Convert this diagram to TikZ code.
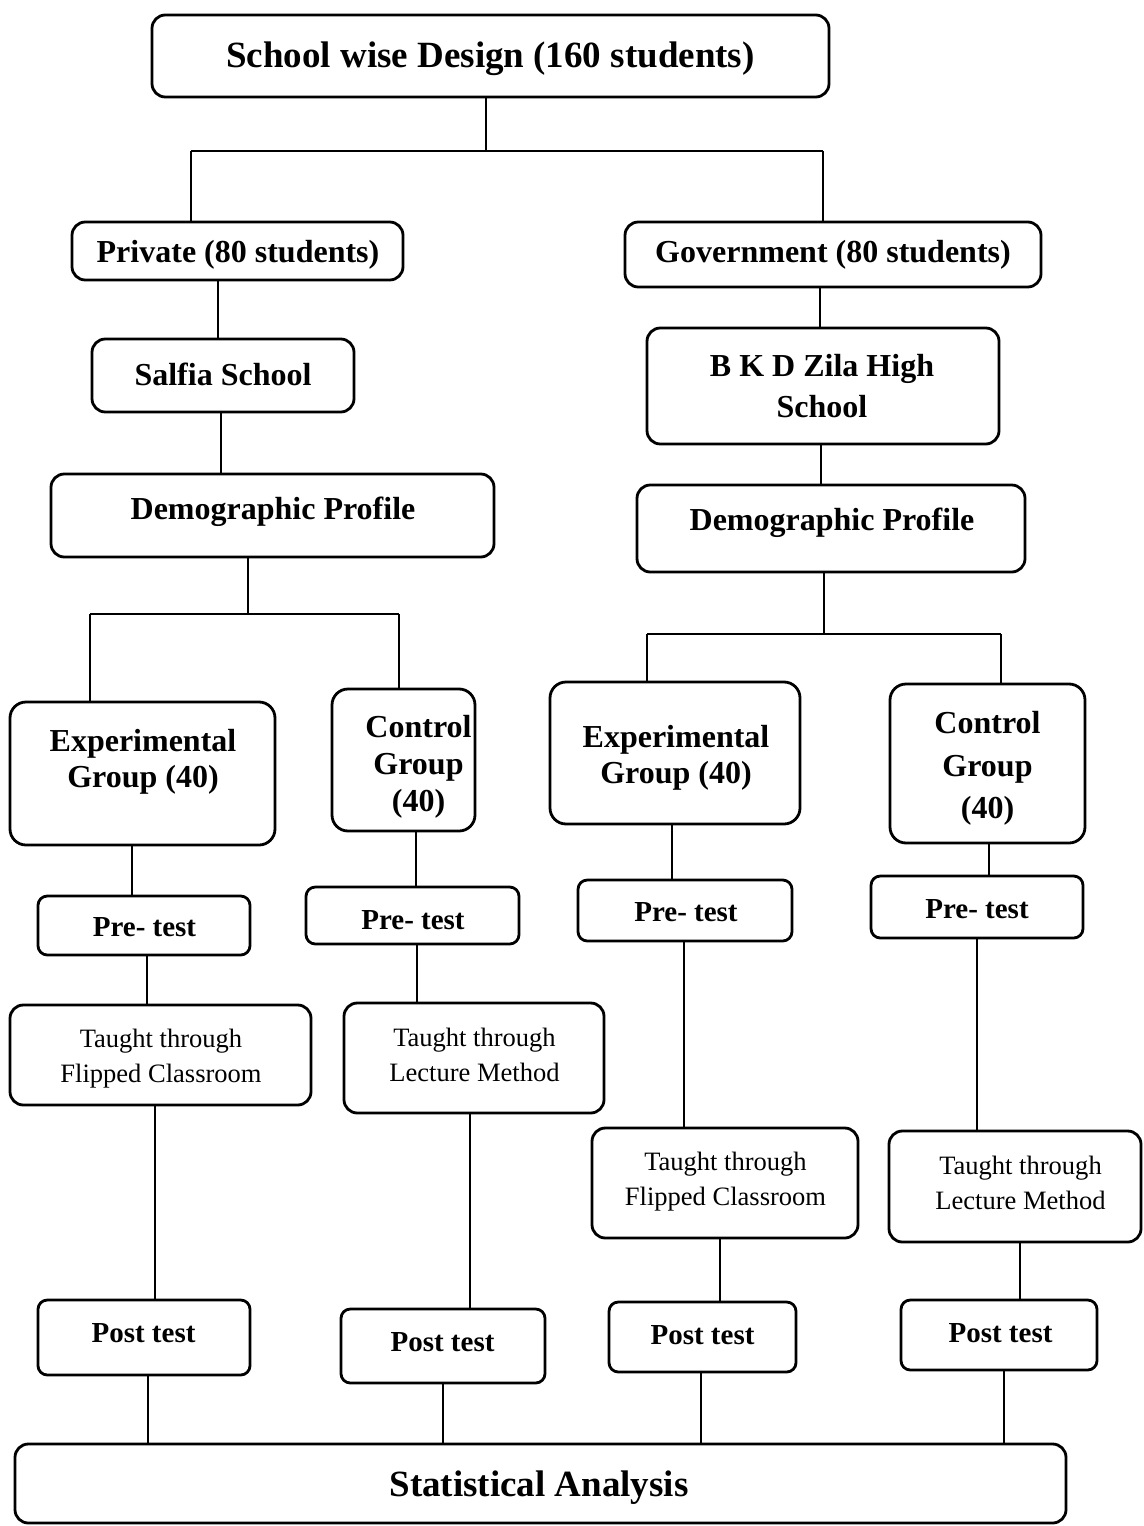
\documentclass[tikz,border=0pt]{standalone}
\usepackage{fontspec}
\setmainfont{Liberation Serif}
\begin{document}
\begin{tikzpicture}[x=0.75pt,y=-0.75pt,
  box/.style={draw, line width=2.1pt, rounded corners=10pt, inner sep=0pt, outer sep=0pt},
  grp/.style={box, rounded corners=12pt},
  small/.style={box, rounded corners=7pt},
  sz/.style 2 args={minimum width=#1*0.75pt, minimum height=#2*0.75pt},
  conn/.style={line width=0.8pt},
  txt/.style={inner sep=0pt, outer sep=0pt, align=center},
  big/.style={txt, font=\bfseries\fontsize{27.75pt}{33pt}\selectfont},
  mid/.style={txt, font=\bfseries\fontsize{24pt}{#1}\selectfont},
  mid/.default={27pt},
  tst/.style={txt, font=\bfseries\fontsize{21.75pt}{26pt}\selectfont},
  plain/.style={txt, font=\fontsize{19.9pt}{26.25pt}\selectfont}
]
\path[fill=white, use as bounding box] (0,0) rectangle (1143,1526);

% ---- boxes ----
\node[box, sz={677}{82}]   (top)    at (490.5,56)   {};
\node[box, sz={331}{58}]   (priv)   at (237.5,251)  {};
\node[box, sz={416}{65}]   (gov)    at (833,254.5)  {};
\node[box, sz={262}{73}]   (salfia) at (223,375.5)  {};
\node[box, sz={352}{116}]  (bkd)    at (823,386)    {};
\node[box, sz={443}{83}]   (demoL)  at (272.5,515.5){};
\node[box, sz={388}{87}]   (demoR)  at (831,528.5)  {};
\node[grp, sz={265}{143}]  (expL)   at (142.5,773.5){};
\node[grp, sz={143}{142}]  (ctrlL)  at (403.5,760)  {};
\node[grp, sz={250}{142}]  (expR)   at (675,753)    {};
\node[grp, sz={195}{159}]  (ctrlR)  at (987.5,763.5){};
\node[small, sz={212}{59}] (pre1)   at (144,925.5)  {};
\node[small, sz={213}{57}] (pre2)   at (412.5,915.5){};
\node[small, sz={214}{61}] (pre3)   at (685,910.5)  {};
\node[small, sz={212}{62}] (pre4)   at (977,907)    {};
\node[box, sz={301}{100}]  (t1)     at (160.5,1055) {};
\node[box, sz={260}{110}]  (t2)     at (474,1058)   {};
\node[box, sz={266}{110}]  (t3)     at (725,1183)   {};
\node[box, sz={252}{111}]  (t4)     at (1015,1186.5){};
\node[small, sz={212}{75}] (post1)  at (144,1337.5) {};
\node[small, sz={204}{74}] (post2)  at (443,1346)   {};
\node[small, sz={187}{70}] (post3)  at (702.5,1337) {};
\node[small, sz={196}{70}] (post4)  at (999,1335)   {};
\node[box, sz={1051}{79}]  (stat)   at (540.5,1483.5){};

% ---- texts ----
\node[big] (topT)    at (490.5,58.5) {School wise Design (160 students)};
\node[mid] (privT)   at (238,255)    {Private (80 students)};
\node[mid] (govT)    at (833,255)    {Government (80 students)};
\node[mid] (salfiaT) at (223,374)    {Salfia School};
\node[mid={30.75pt}] (bkdT) at (822,386.5) {B K D Zila High\\School};
\node[mid] (demoLT)  at (273,512)    {Demographic Profile};
\node[mid] (demoRT)  at (832,523)    {Demographic Profile};
\node[mid] (expLT)   at (143,762)    {Experimental\\Group (40)};
\node[mid={27.75pt}] (ctrlLT) at (418.5,767) {Control\\Group\\(40)};
\node[mid] (expRT)   at (676,758)    {Experimental\\Group (40)};
\node[mid={31.9pt}] (ctrlRT) at (987.5,768.5) {Control\\Group\\(40)};
\node[tst] (pre1T)   at (144.5,927)  {Pre- test};
\node[tst] (pre2T)   at (413,920)    {Pre- test};
\node[tst] (pre3T)   at (686,912)    {Pre- test};
\node[tst] (pre4T)   at (977,909)    {Pre- test};
\node[plain] (t1T)   at (161,1059)   {Taught through\\Flipped Classroom};
\node[plain] (t2T)   at (474.5,1054.5) {Taught through\\Lecture Method};
\node[plain] (t3T)   at (725.5,1182) {Taught through\\Flipped Classroom};
\node[plain] (t4T)   at (1020.5,1182.5) {Taught through\\Lecture Method};
\node[tst] (post1T)  at (143.5,1333) {Post test};
\node[tst] (post2T)  at (442.5,1342) {Post test};
\node[tst] (post3T)  at (702.5,1335) {Post test};
\node[tst] (post4T)  at (1000.5,1333) {Post test};
\node[big] (statT)   at (539,1487.5) {Statistical Analysis};

% ---- junctions of the branching bars ----
\coordinate (j1)  at (486,151);
\coordinate (j1l) at (191,151);
\coordinate (j1r) at (823,151);
\coordinate (j2)  at (248,614);
\coordinate (j2l) at (90,614);
\coordinate (j2r) at (399,614);
\coordinate (j3)  at (824,634);
\coordinate (j3l) at (647,634);
\coordinate (j3r) at (1001,634);

% ---- connectors ----
\draw[conn] (top.south -| j1) -- (j1);
\draw[conn] (j1l) -- (j1r);
\draw[conn] (j1l) -- (priv.north -| j1l);
\draw[conn] (j1r) -- (gov.north -| j1r);

\draw[conn] (priv.south -| 218,0) -- (salfia.north -| 218,0);
\draw[conn] (gov.south -| 820,0) -- (bkd.north -| 820,0);
\draw[conn] (salfia.south -| 221,0) -- (demoL.north -| 221,0);
\draw[conn] (bkd.south -| 821,0) -- (demoR.north -| 821,0);

\draw[conn] (demoL.south -| j2) -- (j2);
\draw[conn] (j2l) -- (j2r);
\draw[conn] (j2l) -- (expL.north -| j2l);
\draw[conn] (j2r) -- (ctrlL.north -| j2r);

\draw[conn] (demoR.south -| j3) -- (j3);
\draw[conn] (j3l) -- (j3r);
\draw[conn] (j3l) -- (expR.north -| j3l);
\draw[conn] (j3r) -- (ctrlR.north -| j3r);

\draw[conn] (expL.south -| 132,0)  -- (pre1.north -| 132,0);
\draw[conn] (ctrlL.south -| 416,0) -- (pre2.north -| 416,0);
\draw[conn] (expR.south -| 672,0)  -- (pre3.north -| 672,0);
\draw[conn] (ctrlR.south -| 989,0) -- (pre4.north -| 989,0);

\draw[conn] (pre1.south -| 147,0) -- (t1.north -| 147,0);
\draw[conn] (pre2.south -| 417,0) -- (t2.north -| 417,0);
\draw[conn] (pre3.south -| 684,0) -- (t3.north -| 684,0);
\draw[conn] (pre4.south -| 977,0) -- (t4.north -| 977,0);

\draw[conn] (t1.south -| 155,0)  -- (post1.north -| 155,0);
\draw[conn] (t2.south -| 470,0)  -- (post2.north -| 470,0);
\draw[conn] (t3.south -| 720,0)  -- (post3.north -| 720,0);
\draw[conn] (t4.south -| 1020,0) -- (post4.north -| 1020,0);

\draw[conn] (post1.south -| 148,0)  -- (stat.north -| 148,0);
\draw[conn] (post2.south -| 443,0)  -- (stat.north -| 443,0);
\draw[conn] (post3.south -| 701,0)  -- (stat.north -| 701,0);
\draw[conn] (post4.south -| 1004,0) -- (stat.north -| 1004,0);
\end{tikzpicture}
\end{document}
